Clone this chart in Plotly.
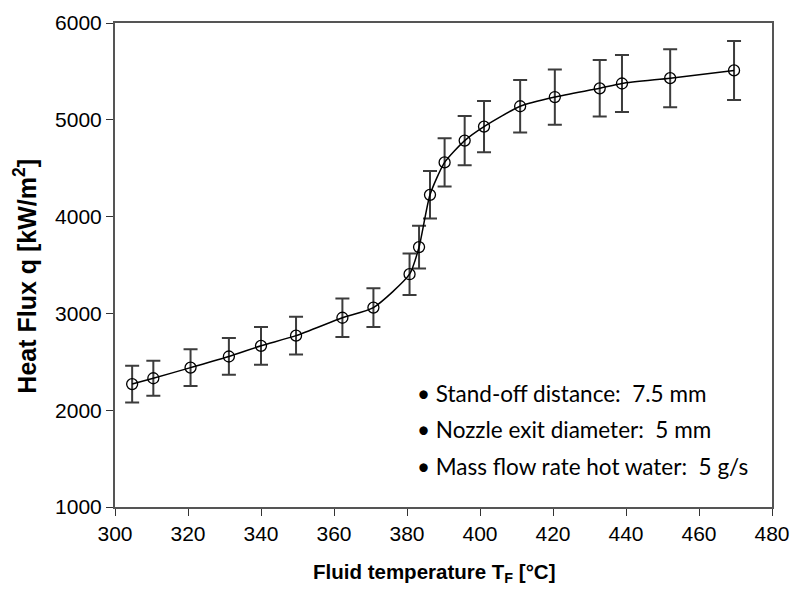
import plotly.graph_objects as go

# fluid temperature [°C] and heat flux [kW/m2]
temp_c = [304.7, 310.5, 320.7, 331.2, 340.0, 349.6, 362.3, 370.8, 380.7, 383.3,
          386.3, 390.3, 395.8, 401.1, 411.0, 420.5, 432.8, 438.9, 452.1, 469.6]
heat_flux = [2270, 2330, 2440, 2555, 2665, 2770, 2955, 3060, 3405, 3685,
             4225, 4560, 4785, 4930, 5140, 5235, 5325, 5375, 5430, 5510]
flux_err = [190, 180, 190, 190, 195, 195, 200, 200, 215, 220,
            245, 250, 255, 265, 270, 285, 292, 295, 300, 305]

notes = ["\u2022 Stand-off distance:  7.5 mm",
         "\u2022 Nozzle exit diameter:  5 mm",
         "\u2022 Mass flow rate hot water:  5 g/s"]

fig = go.Figure()
fig.add_trace(go.Scatter(
    x=temp_c, y=heat_flux,
    mode="lines+markers",
    line=dict(color="black", width=1.5, shape="spline", smoothing=0.6),
    marker=dict(symbol="circle-open", size=11, color="black", line=dict(width=1.3)),
    error_y=dict(type="data", array=flux_err, color="#3c3c3c", thickness=2, width=7),
    showlegend=False,
))

axis_style = dict(showline=True, linecolor="#555555", linewidth=2, mirror=True,
                  ticks="outside", ticklen=7, tickwidth=1.2, tickcolor="#333333",
                  showgrid=False, zeroline=False, automargin=False,
                  tickfont=dict(family="Liberation Sans, Arial", size=21, color="black"))

fig.update_xaxes(range=[300, 480], dtick=20, **axis_style)
fig.update_yaxes(range=[1000, 6000], dtick=1000, **axis_style)

# axis titles as annotations so they sit where the original has them
fig.add_annotation(x=-0.137, y=0.478, xref="paper", yref="paper", textangle=-90,
                   text="<b>Heat Flux q [kW/m<sup>2</sup>]</b>", showarrow=False,
                   xanchor="center", yanchor="middle",
                   font=dict(family="Liberation Sans, Arial", size=25, color="black"))
fig.add_annotation(x=0.486, y=-0.137, xref="paper", yref="paper",
                   text="<b>Fluid temperature T<sub>F</sub> [°C]</b>", showarrow=False,
                   xanchor="center", yanchor="middle",
                   font=dict(family="Liberation Sans, Arial", size=20.5, color="black"))

for i, txt in enumerate(notes):
    fig.add_annotation(x=0.456, y=0.2355 - i * 0.0755, xref="paper", yref="paper",
                       text=txt, showarrow=False, xanchor="left", yanchor="middle",
                       font=dict(family="Lato, Open Sans", size=22.5, color="black"))

fig.update_layout(width=794, height=592, plot_bgcolor="white", paper_bgcolor="white",
                  margin=dict(l=115, r=22, t=23, b=85))

# drop the default body margin so the figure fills the window exactly
fig.write_html("out.html", config={"displayModeBar": False},
               post_script="document.body.style.margin='0';")
